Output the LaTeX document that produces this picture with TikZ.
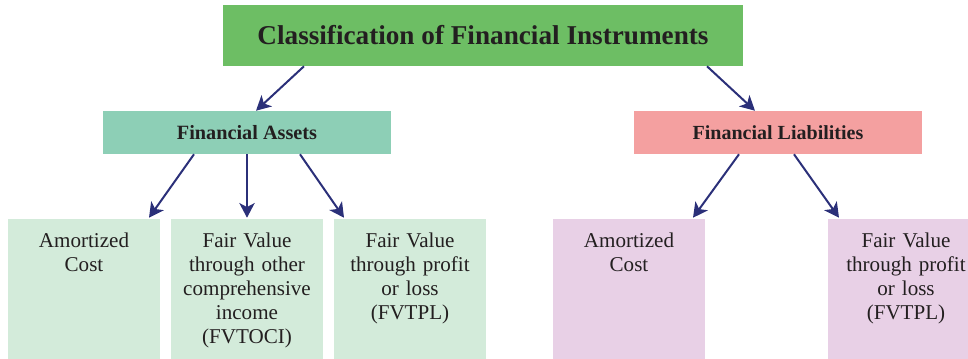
\documentclass[tikz,border=0pt]{standalone}
\usepackage{fontspec}
\setmainfont{Liberation Serif}
\usepackage{tikz}
\usetikzlibrary{arrows.meta}

\begin{document}
\begin{tikzpicture}[x=0.75pt, y=-0.75pt,
  box/.style={rectangle, inner sep=0pt, text=textDark},
  leaf/.style={box, minimum width=114pt, minimum height=105pt},
  leaftext/.style={text=textDark, font=\fontsize{15.8pt}{18pt}\selectfont, align=center, text width=110pt, inner sep=0pt, anchor=base},
  arr/.style={draw=arrowNavy, line width=1.5pt, -{Stealth[length=11pt, width=11.5pt, inset=3pt]}}]

% Colours
\definecolor{titleGreen}{HTML}{6DBE64}
\definecolor{assetTeal}{HTML}{8DCFB6}
\definecolor{assetLeaf}{HTML}{D3EBDA}
\definecolor{liabPink}{HTML}{F4A0A0}
\definecolor{liabLeaf}{HTML}{E8D0E6}
\definecolor{arrowNavy}{HTML}{2B3079}
\definecolor{textDark}{HTML}{231F20}

% Drawing area
\clip (0,0) rectangle (968,359);

% Title
\node[box, fill=titleGreen, minimum width=390pt, minimum height=45.75pt,
      font=\fontsize{20.4pt}{24pt}\selectfont\bfseries] (title) at (483,35.5)
      {Classification of Financial Instruments};

% Categories
\node[box, fill=assetTeal, minimum width=216pt, minimum height=32.25pt,
      font=\fontsize{15.2pt}{18pt}\selectfont\bfseries] (assets) at (247,132.5) {Financial Assets};
\node[box, fill=liabPink, minimum width=216pt, minimum height=32.25pt,
      font=\fontsize{15pt}{18pt}\selectfont\bfseries] (liabs) at (778,132.5) {Financial Liabilities};

% Financial assets
\node[leaf, fill=assetLeaf] (acA) at (84,289) {};
\node[leaf, fill=assetLeaf] (fvociA) at (247,289) {};
\node[leaf, fill=assetLeaf] (fvplA) at (410,289) {};
\node[leaftext] at ([shift={(0,29)}]acA.north) {Amortized\\Cost};
\node[leaftext] at ([shift={(0,29)}]fvociA.north) {Fair Value\\through other\\comprehensive\\income\\(FVTOCI)};
\node[leaftext] at ([shift={(0,29)}]fvplA.north) {Fair Value\\through profit\\or loss\\(FVTPL)};

% Financial liabilities
\node[leaf, fill=liabLeaf] (acL) at (629,289) {};
\node[leaf, fill=liabLeaf] (fvplL) at (904,289) {};
\node[leaftext] at ([shift={(0,29)}]acL.north) {Amortized\\Cost};
\node[leaftext] at ([shift={(2,29)}]fvplL.north) {Fair Value\\through profit\\or loss\\(FVTPL)};

% Arrows
\draw[arr] ([shift={(-179,0)}]title.south) -- ([shift={(9,0)}]assets.north);
\draw[arr] ([shift={(224,0)}]title.south) -- ([shift={(-23,0)}]liabs.north);

\draw[arr] ([shift={(-53,0)}]assets.south) -- ([shift={(65,-1)}]acA.north);
\draw[arr] (assets.south) -- ([shift={(0,-1)}]fvociA.north);
\draw[arr] ([shift={(53,0)}]assets.south) -- ([shift={(-66,-1)}]fvplA.north);

\draw[arr] ([shift={(-39,0)}]liabs.south) -- ([shift={(64,-1)}]acL.north);
\draw[arr] ([shift={(16,0)}]liabs.south) -- ([shift={(-65,-1)}]fvplL.north);

\end{tikzpicture}
\end{document}
